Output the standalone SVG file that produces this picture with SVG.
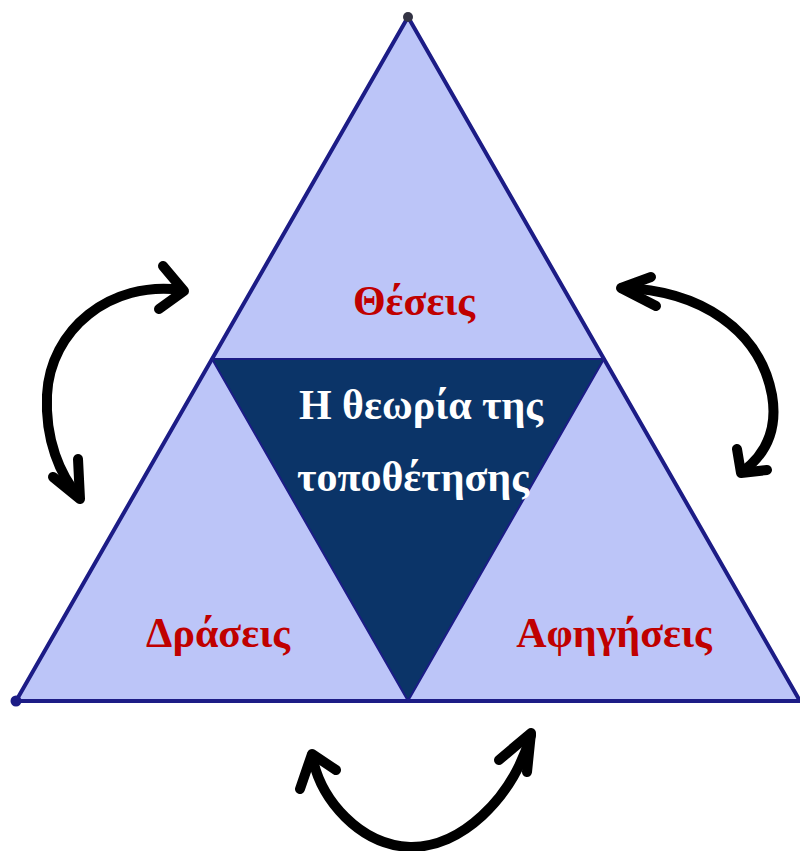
<svg xmlns="http://www.w3.org/2000/svg" width="800" height="851" viewBox="0 0 800 851">
<style>
.lbl{font-family:"Liberation Serif","DejaVu Serif",serif;font-weight:bold;font-size:42px;text-anchor:middle}
.red{fill:#c00000}
.wht{fill:#ffffff}
.arr{fill:none;stroke:#000;stroke-width:10;stroke-linecap:round;stroke-linejoin:round}
</style>
<rect width="800" height="851" fill="#ffffff"/>
<g id="outer-triangle">
<polygon points="408,17 16,701 800,701" fill="#bcc5f8" stroke="#1c1c86" stroke-width="4" stroke-linejoin="round"/>
<circle cx="408" cy="17" r="5" fill="#333344"/>
<circle cx="16" cy="701" r="5.5" fill="#1c1c86"/>
</g>
<g id="inner-triangle">
<polygon points="212,359 604,359 408,701" fill="#0b3468" stroke="#1c1c86" stroke-width="2"/>
<text class="lbl wht" x="421" y="419">Η θεωρία της</text>
<text class="lbl wht" x="413" y="491">τοποθέτησης</text>
</g>
<g id="theseis"><text class="lbl red" x="414" y="315">Θέσεις</text></g>
<g id="draseis"><text class="lbl red" x="218" y="647">Δράσεις</text></g>
<g id="afigiseis"><text class="lbl red" x="614" y="647">Αφηγήσεις</text></g>
<g id="connectors">
<path class="arr" d="M182,290 C110,280 50,330 47,395 C45,440 60,475 79,497"/>
<polyline class="arr" points="163,266 184,291 159,309"/>
<polyline class="arr" points="53,477 80,499 78,459"/>
<path class="arr" d="M622,288 C700,290 760,330 772,395 C778,430 765,455 742,472"/>
<polyline class="arr" points="651,277 621,288 656,306"/>
<polyline class="arr" points="737,449 741,473 767,470"/>
<path class="arr" d="M312,755 C320,800 360,845 410,847 C460,848 512,800 531,735"/>
<polyline class="arr" points="300,789 312,754 336,770"/>
<polyline class="arr" points="499,760 531,733 527,772"/>
</g>
</svg>
